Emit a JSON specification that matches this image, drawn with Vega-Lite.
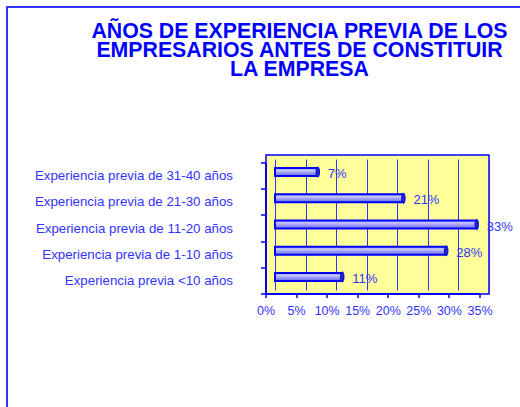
{
  "$schema": "https://vega.github.io/schema/vega-lite/v6.json",
  "autosize": {"type": "none"},
  "padding": {"left": 266, "top": 155, "right": 31, "bottom": 113},
  "width": 223,
  "height": 139,
  "background": "white",
  "title": {
    "text": ["AÑOS DE EXPERIENCIA PREVIA DE LOS", "EMPRESARIOS ANTES DE CONSTITUIR", "LA EMPRESA"],
    "font": "Liberation Sans",
    "fontSize": 21.3,
    "fontWeight": "bold",
    "color": "#0000FF",
    "lineHeight": 19,
    "anchor": "middle",
    "frame": "group",
    "dx": -78,
    "dy": 78
  },
  "data": {
    "values": [
      {"cat": "Experiencia previa de 31-40 años", "value": 0.07},
      {"cat": "Experiencia previa de 21-30 años", "value": 0.21},
      {"cat": "Experiencia previa de 11-20 años", "value": 0.33},
      {"cat": "Experiencia previa de 1-10 años", "value": 0.28},
      {"cat": "Experiencia previa <10 años", "value": 0.11}
    ]
  },
  "config": {
    "view": {"fill": "#FFFF99", "stroke": "#0000FF", "strokeWidth": 1.5},
    "font": "Liberation Sans",
    "legend": {"strokeColor": "#3333FF", "strokeWidth": 2}
  },
  "encoding": {
    "y": {
      "field": "cat",
      "type": "nominal",
      "sort": null,
      "scale": {"range": [4, 135], "paddingInner": 0, "paddingOuter": 0},
      "axis": {
        "title": null,
        "orient": "left",
        "translate": 4,
        "offset": 4,
        "tickBand": "extent",
        "tickSize": 5,
        "tickColor": "#0000FF",
        "tickWidth": 1.5,
        "domainColor": "#0000FF",
        "domainWidth": 2,
        "labelPadding": 28,
        "labelFontSize": 13.3,
        "labelLimit": 300,
        "labelColor": "#3333FF",
        "labelFont": "Liberation Sans"
      }
    }
  },
  "layer": [
    {
      "mark": {
        "type": "bar",
        "size": 8,
        "stroke": "#0000FF",
        "strokeWidth": 2,
        "color": {
          "gradient": "linear",
          "x1": 0, "y1": 0, "x2": 0, "y2": 1,
          "stops": [
            {"offset": 0, "color": "#9090F0"},
            {"offset": 0.3, "color": "#C8C8FF"},
            {"offset": 0.6, "color": "#9A9AF8"},
            {"offset": 1, "color": "#6A6AE0"}
          ]
        }
      },
      "encoding": {
        "x": {
          "field": "value",
          "type": "quantitative",
          "scale": {"domain": [0, 0.35], "range": [9, 223], "nice": false, "zero": true},
          "axis": {
            "orient": "bottom",
            "title": null,
            "grid": true,
            "gridColor": "#3333FF",
            "gridWidth": 1,
            "gridOpacity": 1,
            "values": [0, 0.05, 0.1, 0.15, 0.2, 0.25, 0.3, 0.35],
            "labels": false,
            "ticks": false,
            "domain": false
          }
        },
        "strokeWidth": {
          "datum": "marco",
          "type": "nominal",
          "scale": {"range": [2, 2]},
          "legend": {
            "orient": "none",
            "legendX": -259,
            "legendY": -148,
            "padding": 450,
            "strokeColor": "#3333FF",
            "title": null,
            "symbolSize": 0,
            "symbolStrokeWidth": 0,
            "symbolOpacity": 0,
            "labelExpr": "''",
            "labelFontSize": 0,
            "labelOpacity": 0
          }
        }
      }
    },
    {
      "mark": {"type": "point", "shape": "M0,-1A0.35,1,0,1,1,0,1A0.35,1,0,1,1,0,-1Z", "size": 100, "filled": true, "fill": "#2A2AB0", "stroke": "#0000FF", "strokeWidth": 1, "opacity": 1},
      "encoding": {
        "x": {"field": "value", "type": "quantitative", "axis": null}
      }
    },
    {
      "mark": {"type": "text", "align": "left", "baseline": "middle", "dx": 10, "dy": 2, "fontSize": 13, "color": "#3333FF", "font": "Liberation Sans"},
      "encoding": {
        "x": {
          "field": "value",
          "type": "quantitative",
          "axis": {
            "orient": "bottom",
            "title": null,
            "grid": false,
            "translate": -9,
            "offset": 9,
            "values": [0, 0.05, 0.1, 0.15, 0.2, 0.25, 0.3, 0.35],
            "format": ".0%",
            "tickSize": 4,
            "tickColor": "#0000FF",
            "tickWidth": 1.5,
            "domainColor": "#0000FF",
            "domainWidth": 2,
            "labelPadding": 7,
            "labelFontSize": 12.5,
            "labelColor": "#3333FF",
            "labelFont": "Liberation Sans",
            "labelFlush": false,
            "labelOverlap": false
          }
        },
        "text": {"field": "value", "type": "quantitative", "format": ".0%"}
      }
    }
  ],
  "resolve": {"axis": {"x": "independent"}}
}
